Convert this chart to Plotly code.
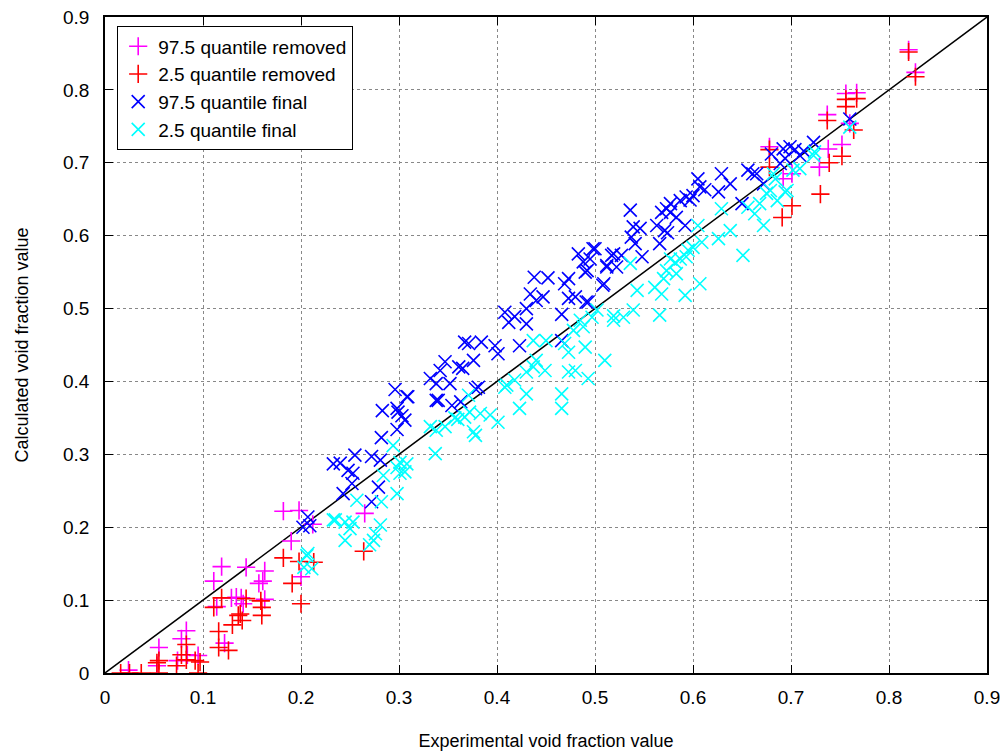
import plotly.graph_objects as go

# 97.5 quantile removed (magenta +)
rem975_x = [0.182, 0.198, 0.190, 0.212, 0.119, 0.144, 0.163, 0.161, 0.157, 0.111, 0.200,
            0.134, 0.139, 0.129, 0.141, 0.163, 0.114, 0.083, 0.078, 0.055, 0.122, 0.095,
            0.074, 0.053, 0.024, 0.084, 0.265, 0.820, 0.827, 0.756, 0.767, 0.737, 0.752,
            0.738, 0.729, 0.678, 0.692, 0.701, 0.760]
rem975_y = [0.222, 0.223, 0.181, 0.204, 0.146, 0.145, 0.140, 0.126, 0.123, 0.126, 0.132,
            0.104, 0.103, 0.103, 0.095, 0.101, 0.091, 0.058, 0.047, 0.035, 0.041, 0.024,
            0.017, 0.010, 0.004, 0.025, 0.219, 0.855, 0.824, 0.795, 0.796, 0.766, 0.725,
            0.719, 0.694, 0.722, 0.678, 0.685, 0.754]

# 2.5 quantile removed (red +)
rem25_x = [0.182, 0.198, 0.213, 0.191, 0.200, 0.119, 0.111, 0.144, 0.138, 0.136, 0.140,
           0.130, 0.159, 0.160, 0.160, 0.116, 0.116, 0.126, 0.083, 0.078, 0.083, 0.092,
           0.097, 0.095, 0.055, 0.053, 0.055, 0.073, 0.016, 0.025, 0.037, 0.264, 0.820,
           0.827, 0.756, 0.756, 0.767, 0.737, 0.764, 0.752, 0.739, 0.730, 0.701, 0.691,
           0.678, 0.678]
rem25_y = [0.158, 0.153, 0.152, 0.123, 0.095, 0.103, 0.090, 0.102, 0.081, 0.079, 0.072,
           0.066, 0.099, 0.090, 0.079, 0.057, 0.035, 0.031, 0.039, 0.025, 0.018, 0.017,
           0.015, 0.000, 0.017, 0.014, 0.000, 0.010, 0.000, 0.000, 0.000, 0.167, 0.852,
           0.818, 0.787, 0.777, 0.788, 0.758, 0.745, 0.709, 0.700, 0.657, 0.641, 0.625,
           0.694, 0.718]

# 97.5 quantile final (blue x)
fin975_x = [0.207, 0.202, 0.209, 0.233, 0.240, 0.248, 0.253, 0.255, 0.272, 0.281, 0.252,
            0.243, 0.279, 0.272, 0.282, 0.283, 0.296, 0.298, 0.303, 0.306, 0.298, 0.309,
            0.308, 0.299, 0.332, 0.338, 0.340, 0.342, 0.347, 0.338, 0.352, 0.354, 0.361,
            0.363, 0.365, 0.367, 0.371, 0.376, 0.378, 0.381, 0.384, 0.398, 0.401, 0.408,
            0.412, 0.418, 0.423, 0.430, 0.430, 0.434, 0.438, 0.440, 0.447, 0.452, 0.466,
            0.466, 0.469, 0.473, 0.473, 0.480, 0.483, 0.488, 0.490, 0.491, 0.492, 0.493,
            0.495, 0.498, 0.500, 0.508, 0.509, 0.512, 0.512, 0.517, 0.519, 0.522, 0.527,
            0.536, 0.537, 0.539, 0.541, 0.546, 0.548, 0.563, 0.566, 0.568, 0.571, 0.573,
            0.574, 0.577, 0.577, 0.583, 0.587, 0.592, 0.593, 0.597, 0.600, 0.605, 0.607,
            0.612, 0.626, 0.629, 0.638, 0.650, 0.656, 0.661, 0.665, 0.672, 0.680, 0.689,
            0.692, 0.694, 0.699, 0.704, 0.709, 0.713, 0.723, 0.760]
fin975_y = [0.214, 0.200, 0.202, 0.287, 0.288, 0.278, 0.274, 0.299, 0.297, 0.292, 0.260,
            0.246, 0.255, 0.235, 0.323, 0.360, 0.389, 0.363, 0.353, 0.347, 0.334, 0.379,
            0.379, 0.358, 0.404, 0.374, 0.374, 0.415, 0.427, 0.397, 0.397, 0.367, 0.420,
            0.372, 0.418, 0.454, 0.452, 0.429, 0.390, 0.392, 0.454, 0.449, 0.438, 0.495,
            0.481, 0.489, 0.449, 0.500, 0.479, 0.520, 0.543, 0.511, 0.516, 0.542, 0.492,
            0.456, 0.534, 0.541, 0.514, 0.516, 0.575, 0.564, 0.550, 0.509, 0.552, 0.509,
            0.568, 0.582, 0.582, 0.532, 0.534, 0.557, 0.559, 0.573, 0.575, 0.557, 0.573,
            0.635, 0.598, 0.612, 0.589, 0.610, 0.571, 0.614, 0.589, 0.632, 0.607, 0.637,
            0.604, 0.644, 0.632, 0.625, 0.648, 0.614, 0.653, 0.649, 0.655, 0.678, 0.667,
            0.663, 0.660, 0.685, 0.671, 0.644, 0.690, 0.685, 0.685, 0.671, 0.712, 0.699,
            0.719, 0.706, 0.722, 0.718, 0.710, 0.716, 0.728, 0.760]

# 2.5 quantile final (cyan x)
fin25_x = [0.206, 0.203, 0.211, 0.207, 0.233, 0.235, 0.245, 0.253, 0.250, 0.245, 0.257,
           0.281, 0.276, 0.274, 0.270, 0.282, 0.298, 0.284, 0.301, 0.306, 0.301, 0.308,
           0.298, 0.294, 0.332, 0.337, 0.338, 0.347, 0.357, 0.360, 0.367, 0.371, 0.372,
           0.376, 0.378, 0.383, 0.393, 0.401, 0.408, 0.410, 0.418, 0.423, 0.430, 0.430,
           0.437, 0.437, 0.440, 0.449, 0.450, 0.466, 0.466, 0.469, 0.473, 0.473, 0.478,
           0.480, 0.485, 0.488, 0.490, 0.493, 0.497, 0.502, 0.510, 0.519, 0.519, 0.529,
           0.536, 0.539, 0.543, 0.561, 0.566, 0.568, 0.570, 0.573, 0.577, 0.582, 0.583,
           0.587, 0.592, 0.593, 0.595, 0.600, 0.605, 0.607, 0.609, 0.626, 0.629, 0.638,
           0.651, 0.656, 0.663, 0.668, 0.672, 0.675, 0.679, 0.682, 0.684, 0.686, 0.694,
           0.696, 0.702, 0.709, 0.723, 0.724, 0.760]
fin25_y = [0.161, 0.145, 0.143, 0.164, 0.210, 0.210, 0.207, 0.207, 0.198, 0.182, 0.237,
           0.203, 0.191, 0.182, 0.176, 0.235, 0.246, 0.271, 0.274, 0.276, 0.289, 0.287,
           0.282, 0.312, 0.338, 0.301, 0.333, 0.338, 0.350, 0.348, 0.351, 0.381, 0.358,
           0.331, 0.326, 0.356, 0.354, 0.344, 0.392, 0.395, 0.402, 0.363, 0.413, 0.383,
           0.456, 0.420, 0.429, 0.415, 0.456, 0.383, 0.363, 0.452, 0.440, 0.413, 0.470,
           0.415, 0.484, 0.475, 0.447, 0.404, 0.488, 0.498, 0.429, 0.484, 0.490, 0.488,
           0.562, 0.498, 0.525, 0.529, 0.491, 0.520, 0.541, 0.552, 0.568, 0.563, 0.548,
           0.568, 0.518, 0.571, 0.580, 0.584, 0.614, 0.534, 0.591, 0.596, 0.637, 0.607,
           0.573, 0.639, 0.630, 0.644, 0.614, 0.658, 0.662, 0.685, 0.678, 0.648, 0.660,
           0.662, 0.690, 0.692, 0.710, 0.715, 0.749]

tick_vals = [0, 0.1, 0.2, 0.3, 0.4, 0.5, 0.6, 0.7, 0.8, 0.9]
tick_text = ["0", "0.1", "0.2", "0.3", "0.4", "0.5", "0.6", "0.7", "0.8", "0.9"]
diag = [0, 0.9]

FONT = "Liberation Sans, Arial, sans-serif"

fig = go.Figure()
fig.add_trace(go.Scatter(x=diag, y=diag, mode="lines", line=dict(color="black", width=1.5),
                         showlegend=False, hoverinfo="skip"))

series = [
    ("97.5 quantile removed", rem975_x, rem975_y, "#ff00ff", "cross-thin"),
    ("2.5 quantile removed", rem25_x, rem25_y, "#ff0000", "cross-thin"),
    ("97.5 quantile final", fin975_x, fin975_y, "#0000ff", "x-thin"),
    ("2.5 quantile final", fin25_x, fin25_y, "#00ffff", "x-thin"),
]
for name, xs, ys, col, sym in series:
    fig.add_trace(go.Scatter(
        x=xs, y=ys, mode="markers", name=name,
        marker=dict(symbol=sym, size=13, color=col, line=dict(color=col, width=1.6)),
    ))

axis_common = dict(
    range=[0, 0.9], tickvals=tick_vals, ticktext=tick_text,
    showgrid=True, gridcolor="#888888", griddash="dot", gridwidth=1,
    showline=True, linecolor="black", linewidth=1.5, mirror="ticks",
    ticks="inside", ticklen=8, tickcolor="black", zeroline=False,
    tickfont=dict(family=FONT, size=19, color="black"),
    automargin=False, ticklabeloverflow="allow",
)

fig.update_layout(
    width=1000, height=744,
    margin=dict(l=97, r=21, t=9, b=79),
    paper_bgcolor="white", plot_bgcolor="white",
    font=dict(family=FONT, size=18, color="black"),
    xaxis=dict(title=dict(text="Experimental void fraction value", standoff=28,
                          font=dict(size=18)), ticklabelstandoff=6, **axis_common),
    yaxis=dict(title=dict(text="Calculated void fraction value", standoff=30,
                          font=dict(size=18)), ticklabelstandoff=10, **axis_common),
    legend=dict(x=0.0136, y=0.986, xanchor="left", yanchor="top",
                bgcolor="white", bordercolor="black", borderwidth=1.2,
                font=dict(family=FONT, size=19), tracegroupgap=0, itemwidth=30,
                entrywidth=250, entrywidthmode="pixels"),
    showlegend=True,
)

fig.write_html("out.html")
